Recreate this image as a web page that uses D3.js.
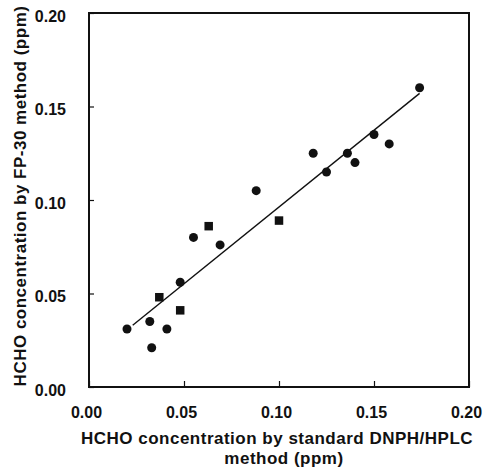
<!DOCTYPE html>
<html>
<head>
<meta charset="utf-8">
<script src="https://cdn.jsdelivr.net/npm/d3@7/dist/d3.min.js"></script>
<style>
  body { margin: 0; background: #fff; }
  svg { display: block; }
  text { font-family: "Liberation Sans", Arial, sans-serif; font-weight: bold; fill: #111; }
</style>
</head>
<body>
<svg id="chart" width="483" height="468"></svg>
<script>
// Circles series (x: DNPH/HPLC, y: FP-30)
const circleX = [0.020, 0.032, 0.033, 0.041, 0.048, 0.055, 0.069, 0.088, 0.118, 0.125, 0.136, 0.140, 0.150, 0.158, 0.174];
const circleY = [0.031, 0.035, 0.021, 0.031, 0.056, 0.080, 0.076, 0.105, 0.125, 0.115, 0.125, 0.120, 0.135, 0.130, 0.160];
// Squares series
const squareX = [0.037, 0.048, 0.063, 0.100];
const squareY = [0.048, 0.041, 0.086, 0.089];
// Regression line endpoints
const fitX = [0.023, 0.174];
const fitY = [0.033, 0.157];
// Ticks
const xTicks = [0, 0.05, 0.10, 0.15, 0.20];
const yTicks = [0, 0.05, 0.10, 0.15, 0.20];
const xTitle = ["HCHO concentration by standard DNPH/HPLC", "method (ppm)"];
const yTitle = "HCHO concentration by FP-30 method (ppm)";

const svg = d3.select("#chart");
const L = 89, R = 469, T = 13, B = 387;
const x = d3.scaleLinear().domain([0, 0.2]).range([L, R]);
const y = d3.scaleLinear().domain([0, 0.2]).range([B, T]);

const gx = svg.append("g").attr("transform", `translate(0,${B})`)
  .call(d3.axisBottom(x).tickValues(xTicks).tickFormat(d3.format(".2f"))
    .tickSizeInner(-6).tickSizeOuter(0).tickPadding(20));
gx.select(".domain").remove();
gx.selectAll(".tick line").attr("stroke", "#111").attr("stroke-width", 1.2);
gx.selectAll(".tick text").attr("font-size", 16).attr("dx", -3)
  .style("font-family", "'Liberation Sans', Arial, sans-serif").style("font-weight", "bold").attr("fill", "#111");

const gy = svg.append("g").attr("transform", `translate(${L},0)`)
  .call(d3.axisLeft(y).tickValues(yTicks).tickFormat(d3.format(".2f"))
    .tickSizeInner(-5).tickSizeOuter(0).tickPadding(23));
gy.select(".domain").remove();
gy.selectAll(".tick line").attr("stroke", "#111").attr("stroke-width", 1.2);
gy.selectAll(".tick text").attr("font-size", 16).attr("y", 3)
  .style("font-family", "'Liberation Sans', Arial, sans-serif").style("font-weight", "bold").attr("fill", "#111");

// frame
svg.append("rect").attr("x", L).attr("y", T).attr("width", R - L).attr("height", B - T)
  .attr("fill", "none").attr("stroke", "#111").attr("stroke-width", 2);

// fit line
svg.append("line")
  .attr("x1", x(fitX[0])).attr("y1", y(fitY[0]))
  .attr("x2", x(fitX[1])).attr("y2", y(fitY[1]))
  .attr("stroke", "#111").attr("stroke-width", 1.4);

// circles
svg.append("g").selectAll("circle").data(circleX.map((d, i) => [d, circleY[i]]))
  .join("circle").attr("cx", d => x(d[0])).attr("cy", d => y(d[1])).attr("r", 4.5).attr("fill", "#111");

// squares
const s = 8.5;
svg.append("g").selectAll("rect").data(squareX.map((d, i) => [d, squareY[i]]))
  .join("rect").attr("x", d => x(d[0]) - s / 2).attr("y", d => y(d[1]) - s / 2)
  .attr("width", s).attr("height", s).attr("fill", "#111");

// titles
svg.append("text").attr("x", 277).attr("y", 444).attr("text-anchor", "middle")
  .attr("font-size", 17).style("letter-spacing", "0.5px").text(xTitle[0]);
svg.append("text").attr("x", 284).attr("y", 464).attr("text-anchor", "middle")
  .attr("font-size", 17).style("letter-spacing", "0.5px").text(xTitle[1]);
svg.append("text").attr("transform", "translate(26,196) rotate(-90)").attr("text-anchor", "middle")
  .attr("font-size", 17).style("letter-spacing", "0.5px").text(yTitle);
</script>
</body>
</html>
